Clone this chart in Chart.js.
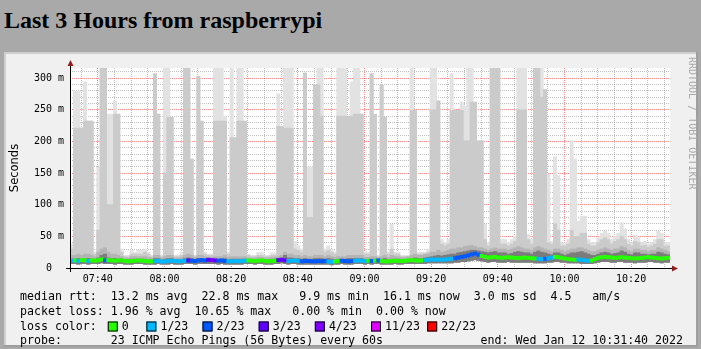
<!DOCTYPE html>
<html>
<head>
<meta charset="utf-8">
<title>Last 3 Hours from raspberrypi</title>
<script src="https://cdn.jsdelivr.net/npm/chart.js@4.4.1/dist/chart.umd.min.js"></script>
<style>
  html, body { margin: 0; padding: 0; }
  body { background: #a9a9a9; width: 701px; height: 349px; overflow: hidden; position: relative; }
  h2 { position: absolute; left: 4px; top: 8px; margin: 0; font: bold 24px "Liberation Serif", serif; line-height: 1; color: #000; }
  #graph { position: absolute; left: 4px; top: 52px; width: 694px; height: 295px; }
</style>
</head>
<body>
<h2>Last 3 Hours from raspberrypi</h2>
<div id="graph"><canvas id="smoke" width="694" height="295"></canvas></div>
<script>
// 180 one-minute steps starting 07:31:40
const startMinute = 7 * 60 + 31 + 40 / 60;
const endMinute = startMinute + 180;

const timeLabels = ['07:40', '08:00', '08:20', '08:40', '09:00', '09:20', '09:40', '10:00', '10:20'];
const rttLabels = ['0', '50 m', '100 m', '150 m', '200 m', '250 m', '300 m'];

// smoke layers, ms per minute
const pingMax = [
  38, 280, 280, 221, 294, 232, 232, 25, 159, 318,
  318, 243, 243, 264, 243, 30, 20, 20, 28, 25,
  28, 28, 30, 25, 20, 307, 243, 20, 318, 318,
  238, 20, 20, 25, 318, 318, 172, 20, 303, 232,
  25, 22, 22, 318, 318, 318, 240, 25, 318, 206,
  318, 318, 232, 22, 20, 20, 25, 25, 20, 20,
  24, 24, 275, 224, 318, 318, 318, 42, 35, 30,
  308, 160, 160, 290, 318, 318, 30, 35, 30, 25,
  318, 318, 318, 240, 294, 318, 318, 243, 25, 25,
  307, 243, 20, 289, 238, 25, 69, 25, 25, 20,
  20, 20, 318, 249, 25, 25, 25, 30, 318, 318,
  264, 45, 40, 45, 307, 249, 249, 262, 255, 318,
  318, 262, 201, 201, 69, 40, 318, 318, 318, 45,
  45, 40, 45, 50, 318, 318, 318, 53, 45, 318,
  318, 318, 282, 148, 42, 176, 146, 40, 40, 45,
  201, 172, 74, 82, 82, 45, 40, 40, 48, 55,
  58, 55, 45, 50, 55, 72, 62, 45, 40, 52,
  48, 40, 42, 38, 40, 45, 58, 55, 40, 40
];
const pingHigh = [
  30, 221, 221, 221, 232, 232, 232, 22, 60, 318,
  318, 100, 100, 243, 243, 25, 18, 18, 22, 22,
  22, 22, 25, 22, 18, 307, 243, 18, 150, 238,
  238, 18, 18, 20, 318, 318, 172, 18, 303, 232,
  22, 20, 20, 232, 232, 232, 232, 22, 206, 206,
  232, 232, 232, 20, 18, 18, 20, 20, 18, 18,
  20, 20, 224, 224, 221, 221, 221, 30, 28, 25,
  308, 80, 80, 290, 290, 240, 25, 28, 25, 22,
  240, 240, 240, 240, 240, 243, 243, 243, 22, 22,
  307, 243, 18, 289, 238, 22, 30, 22, 22, 18,
  18, 18, 249, 249, 22, 22, 22, 25, 250, 250,
  264, 38, 35, 38, 249, 249, 249, 249, 201, 201,
  262, 262, 201, 201, 45, 35, 318, 318, 318, 38,
  38, 35, 38, 42, 250, 250, 250, 45, 38, 318,
  318, 270, 282, 40, 38, 70, 60, 35, 35, 38,
  60, 50, 50, 55, 55, 38, 35, 35, 40, 45,
  48, 45, 38, 42, 45, 50, 45, 38, 35, 42,
  40, 35, 36, 33, 35, 38, 45, 45, 35, 35
];
const pingLow = [
  20, 20, 22, 20, 22, 22, 20, 18, 25, 30,
  32, 25, 22, 22, 20, 18, 16, 16, 18, 18,
  18, 18, 18, 17, 16, 20, 20, 16, 18, 20,
  20, 16, 16, 17, 20, 22, 20, 17, 20, 20,
  18, 17, 17, 18, 18, 18, 20, 17, 18, 18,
  18, 18, 18, 16, 16, 16, 17, 17, 16, 16,
  17, 17, 18, 20, 25, 22, 22, 20, 20, 18,
  20, 18, 18, 20, 20, 20, 18, 20, 18, 17,
  18, 18, 18, 20, 20, 20, 20, 20, 17, 17,
  18, 18, 16, 18, 20, 17, 20, 18, 18, 17,
  17, 18, 20, 22, 20, 20, 22, 22, 25, 25,
  28, 25, 26, 28, 30, 30, 32, 32, 34, 35,
  36, 34, 32, 32, 30, 28, 30, 32, 30, 30,
  30, 28, 30, 32, 34, 32, 30, 30, 28, 32,
  34, 32, 30, 28, 26, 30, 30, 28, 26, 28,
  30, 30, 32, 32, 30, 28, 26, 26, 28, 30,
  32, 30, 28, 30, 30, 34, 32, 28, 26, 30,
  30, 28, 28, 26, 28, 28, 32, 30, 28, 26
];
const pingCore = [
  14, 14, 15, 14, 14, 15, 14, 14, 16, 20,
  22, 16, 15, 15, 14, 14, 13, 13, 14, 14,
  14, 14, 14, 13, 13, 15, 15, 13, 14, 15,
  15, 13, 13, 13, 15, 16, 15, 13, 15, 15,
  14, 14, 14, 14, 14, 14, 15, 13, 14, 14,
  14, 14, 14, 13, 13, 13, 13, 13, 13, 13,
  13, 14, 15, 16, 20, 16, 16, 15, 15, 14,
  15, 14, 14, 15, 15, 15, 14, 15, 14, 13,
  14, 14, 14, 15, 15, 15, 15, 15, 13, 13,
  14, 14, 13, 14, 15, 13, 14, 14, 14, 13,
  13, 14, 15, 16, 15, 15, 16, 17, 18, 19,
  20, 19, 20, 21, 22, 22, 24, 25, 26, 27,
  28, 28, 27, 26, 25, 24, 25, 26, 24, 24,
  24, 22, 23, 25, 26, 25, 24, 24, 22, 25,
  27, 25, 24, 22, 21, 24, 24, 22, 20, 22,
  24, 24, 25, 26, 24, 22, 20, 20, 22, 24,
  25, 24, 22, 23, 24, 27, 25, 22, 21, 24,
  24, 22, 22, 21, 22, 22, 25, 24, 22, 21
];
const pingMin = [
  7, 7, 6, 7, 7, 6, 7, 7, 7, 8,
  7, 7, 7, 6, 7, 7, 6, 6, 6, 7,
  7, 7, 6, 6, 6, 6, 7, 6, 6, 6,
  7, 6, 6, 6, 7, 7, 7, 6, 7, 7,
  7, 7, 7, 7, 6, 7, 6, 6, 6, 6,
  6, 6, 7, 7, 7, 6, 7, 7, 6, 6,
  6, 7, 7, 8, 7, 6, 7, 7, 6, 6,
  6, 6, 6, 6, 6, 6, 6, 6, 5, 6,
  6, 7, 6, 6, 6, 7, 7, 7, 6, 7,
  6, 7, 7, 6, 6, 6, 6, 7, 6, 6,
  7, 7, 7, 7, 7, 7, 7, 8, 8, 8,
  8, 8, 8, 8, 8, 9, 9, 10, 10, 11,
  12, 13, 12, 11, 10, 9, 10, 10, 9, 9,
  9, 10, 9, 9, 9, 9, 9, 9, 9, 8,
  8, 8, 8, 9, 9, 10, 10, 9, 9, 8,
  8, 8, 8, 7, 7, 7, 7, 8, 9, 10,
  10, 10, 9, 9, 10, 10, 9, 9, 9, 8,
  9, 9, 9, 10, 10, 9, 9, 8, 9, 9
];
const medianRtt = [
  11.5, 12.0, 11.0, 12.5, 12.0, 11.0, 12.0, 11.5, 12.5, 13.5,
  12.0, 12.5, 12.0, 11.5, 12.0, 12.0, 11.0, 10.5, 11.0, 11.5,
  12.0, 11.5, 11.0, 10.5, 10.5, 11.0, 11.5, 10.0, 10.5, 11.0,
  11.5, 11.0, 10.5, 11.0, 11.5, 12.0, 11.5, 11.0, 12.0, 12.5,
  12.0, 13.0, 12.5, 12.0, 11.5, 12.0, 11.0, 10.5, 10.5, 11.0,
  10.5, 11.0, 11.5, 12.0, 11.5, 11.0, 11.5, 12.0, 11.0, 10.5,
  11.0, 11.5, 12.5, 13.0, 12.0, 11.0, 11.5, 12.0, 11.0, 10.5,
  11.0, 11.0, 10.5, 10.5, 11.0, 10.5, 11.0, 10.0, 9.9, 10.5,
  11.0, 11.5, 11.0, 10.5, 11.0, 11.5, 12.0, 11.5, 11.0, 11.5,
  11.0, 11.5, 12.0, 11.0, 10.5, 10.5, 11.0, 11.5, 11.0, 11.0,
  11.5, 12.0, 12.5, 12.0, 11.5, 12.0, 12.5, 13.0, 13.5, 13.0,
  13.5, 13.0, 13.5, 14.0, 14.5, 15.5, 16.5, 17.5, 18.5, 20.0,
  21.5, 22.8, 21.0, 19.0, 17.5, 16.5, 17.0, 17.5, 16.5, 16.0,
  16.5, 17.0, 16.5, 16.0, 15.5, 16.0, 16.5, 16.0, 15.5, 15.0,
  14.5, 14.0, 14.5, 15.5, 16.5, 17.5, 17.0, 16.0, 15.0, 14.0,
  13.5, 13.0, 13.5, 12.5, 12.0, 11.5, 12.0, 14.0, 16.0, 17.0,
  17.5, 17.0, 16.5, 16.0, 16.5, 17.0, 16.5, 16.0, 15.5, 15.0,
  15.5, 16.0, 16.5, 17.0, 16.5, 16.0, 15.5, 15.0, 15.5, 16.1
];
// lost pings out of 23 per minute
const lostPings = [
  1, 0, 1, 0, 0, 1, 0, 0, 0, 0,
  2, 0, 0, 0, 0, 0, 0, 0, 0, 0,
  0, 0, 0, 0, 0, 1, 1, 1, 1, 1,
  1, 1, 1, 1, 1, 3, 2, 2, 2, 2,
  2, 3, 4, 3, 2, 2, 2, 1, 1, 1,
  1, 1, 1, 0, 0, 0, 0, 0, 0, 0,
  0, 0, 3, 3, 3, 1, 1, 1, 1, 2,
  2, 2, 2, 2, 2, 2, 2, 1, 1, 0,
  0, 2, 2, 2, 2, 1, 1, 1, 1, 0,
  2, 0, 2, 0, 0, 0, 0, 0, 0, 0,
  0, 0, 0, 0, 0, 0, 1, 1, 1, 1,
  1, 1, 1, 1, 1, 2, 2, 2, 2, 2,
  2, 2, 2, 0, 0, 0, 0, 0, 0, 0,
  0, 0, 0, 0, 0, 0, 0, 0, 0, 0,
  1, 1, 2, 1, 1, 0, 0, 0, 0, 0,
  0, 0, 1, 1, 1, 1, 0, 0, 0, 0,
  0, 0, 0, 0, 0, 0, 0, 0, 0, 0,
  0, 0, 0, 0, 0, 0, 0, 0, 0, 0
];

const lossLevels = [0, 1, 2, 3, 4, 11, 22];
const lossNames = ['0', '1/23', '2/23', '3/23', '4/23', '11/23', '22/23'];
const lossColours = ['#26ff00', '#00b8ff', '#0059ff', '#5e00ff', '#7e00ff', '#dd00ff', '#ff0000'];

const legendLines = [
  'median rtt:  13.2 ms avg  22.8 ms max   9.9 ms min  16.1 ms now  3.0 ms sd  4.5   am/s',
  'packet loss: 1.96 % avg  10.65 % max   0.00 % min  0.00 % now',
  'loss color:',
  'probe:       23 ICMP Echo Pings (56 Bytes) every 60s'
];
const endStamp = 'end: Wed Jan 12 10:31:40 2022';

function lossColour(n) {
  let c = lossColours[0];
  lossLevels.forEach((lvl, i) => { if (n >= lvl) c = lossColours[i]; });
  return c;
}

const stepCentre = (i) => startMinute + i + 0.5;
const floating = (lower, upper) => upper.map((hi, i) => ({ x: stepCentre(i), y: [lower[i], hi] }));

const bandHalf = 2.6;
const medianBand = medianRtt.map((m, i) => ({ x: stepCentre(i), y: [m - bandHalf, m + bandHalf] }));

function clock(min) {
  const h = Math.floor(min / 60), m = Math.round(min % 60);
  return String(h).padStart(2, '0') + ':' + String(m).padStart(2, '0');
}
const timeMinutes = timeLabels.map(t => { const [h, m] = t.split(':'); return +h * 60 + +m; });

const monoFont = '"DejaVu Sans Mono", monospace';

const rrdFrame = {
  id: 'rrdFrame',
  beforeDraw(chart) {
    const { ctx, chartArea: a, width, height } = chart;
    ctx.save();
    ctx.fillStyle = '#f0f0f0';
    ctx.fillRect(0, 0, width, height);
    ctx.fillStyle = '#cfcfcf';
    ctx.fillRect(0, 0, width, 2);
    ctx.fillRect(0, 0, 2, height);
    ctx.fillStyle = '#9e9e9e';
    ctx.fillRect(0, height - 2, width, 2);
    ctx.fillRect(width - 2, 0, 2, height);
    ctx.fillStyle = '#ffffff';
    ctx.fillRect(a.left, a.top, a.right - a.left, a.bottom - a.top);
    ctx.restore();
  },
  afterDraw(chart) {
    const { ctx, chartArea: a } = chart;
    ctx.save();

    // axes
    ctx.strokeStyle = '#000';
    ctx.lineWidth = 1;
    ctx.beginPath();
    ctx.moveTo(a.left - 4, a.bottom + 0.5);
    ctx.lineTo(a.right + 3, a.bottom + 0.5);
    ctx.moveTo(a.left + 0.5, a.bottom + 4);
    ctx.lineTo(a.left + 0.5, a.top - 3);
    ctx.stroke();

    // arrow heads
    ctx.fillStyle = '#902020';
    ctx.beginPath();
    ctx.moveTo(a.right + 8, a.bottom + 0.5);
    ctx.lineTo(a.right + 2, a.bottom - 2.5);
    ctx.lineTo(a.right + 2, a.bottom + 3.5);
    ctx.closePath();
    ctx.fill();
    ctx.beginPath();
    ctx.moveTo(a.left + 0.5, a.top - 8);
    ctx.lineTo(a.left - 2.5, a.top - 2);
    ctx.lineTo(a.left + 3.5, a.top - 2);
    ctx.closePath();
    ctx.fill();

    // legend rows
    const rowY = [244.5, 259.5, 274.5, 289];
    const colW = 7.02;
    ctx.font = '11.6px ' + monoFont;
    ctx.fillStyle = '#000';
    ctx.textBaseline = 'middle';
    ctx.textAlign = 'left';
    legendLines.forEach((line, i) => ctx.fillText(line, 16, rowY[i]));

    const swatchCols = [12.5, 18, 26, 34, 42, 50, 58];
    lossNames.forEach((name, i) => {
      const x = 16 + swatchCols[i] * colW;
      ctx.fillStyle = lossColours[i];
      ctx.fillRect(x, rowY[2] - 5, 10, 10);
      ctx.strokeStyle = '#000';
      ctx.strokeRect(x + 0.5, rowY[2] - 4.5, 9, 9);
      ctx.fillStyle = '#000';
      ctx.fillText(name, x + 2 * colW, rowY[2]);
    });

    ctx.textAlign = 'right';
    ctx.fillText(endStamp, 679, rowY[3]);

    // vertical credit
    ctx.translate(688, 5);
    ctx.rotate(Math.PI / 2);
    ctx.textAlign = 'left';
    ctx.font = '10px ' + monoFont;
    ctx.fillStyle = '#a8a8a8';
    ctx.fillText('RRDTOOL / TOBI OETIKER', 0, 0);
    ctx.restore();
  }
};

const gridRed = 'rgba(255, 0, 0, 0.45)';
const gridGrey = 'rgba(128, 128, 128, 0.5)';

const bar = (label, data, colour) => ({
  label, data, backgroundColor: colour, borderWidth: 0, grouped: false,
  categoryPercentage: 1, barPercentage: 1, clip: 0
});

new Chart(document.getElementById('smoke'), {
  type: 'bar',
  data: {
    datasets: [
      bar('median rtt', medianBand, lostPings.map(lossColour)),
      bar('core', floating(pingMin, pingCore), '#7c7c7c'),
      bar('low', floating(pingMin, pingLow), '#b4b4b4'),
      bar('high', floating(pingMin, pingHigh), '#cbcbcb'),
      bar('max', floating(pingMin, pingMax), '#e2e2e2')
    ]
  },
  options: {
    responsive: false,
    animation: false,
    devicePixelRatio: 1,
    layout: { padding: { top: 16, right: 28, bottom: 57, left: 0 } },
    plugins: { legend: { display: false }, tooltip: { enabled: false } },
    scales: {
      x: {
        type: 'linear',
        min: startMinute,
        max: endMinute,
        offset: false,
        z: 1,
        afterBuildTicks(scale) {
          const ticks = [];
          for (let v = Math.ceil(startMinute / 5) * 5; v < endMinute; v += 5) ticks.push({ value: v });
          scale.ticks = ticks;
        },
        afterFit(scale) { scale.height = 22; },
        ticks: {
          autoSkip: false,
          maxRotation: 0,
          padding: 5,
          color: '#000',
          font: { family: monoFont, size: 10 },
          callback: (v) => timeMinutes.includes(v) ? clock(v) : ''
        },
        grid: {
          offset: false,
          drawTicks: false,
          lineWidth: 1,
          color: (c) => c.tick && timeMinutes.includes(c.tick.value) ? gridRed : gridGrey
        },
        border: { display: false, dash: [1, 1] }
      },
      y: {
        min: 0,
        max: 316,
        z: 1,
        afterBuildTicks(scale) {
          const ticks = [];
          for (let v = 0; v <= 310; v += 10) ticks.push({ value: v });
          scale.ticks = ticks;
        },
        afterFit(scale) { scale.width = 66; },
        title: {
          display: true,
          text: 'Seconds',
          color: '#000',
          font: { family: '"DejaVu Sans", sans-serif', size: 11.5 },
          padding: { top: 4, bottom: 0 }
        },
        ticks: {
          autoSkip: false,
          padding: 6,
          color: '#000',
          font: { family: monoFont, size: 10 },
          callback: (v) => {
            if (v % 50 !== 0) return '';
            const label = rttLabels[v / 50];
            return label.includes('m') ? label : label + '  ';
          }
        },
        grid: {
          drawTicks: false,
          lineWidth: 1,
          color: (c) => !c.tick || c.tick.value === 0 ? 'rgba(0,0,0,0)' : (c.tick.value % 50 === 0 ? gridRed : gridGrey)
        },
        border: { display: false, dash: [1, 1] }
      }
    }
  },
  plugins: [rrdFrame]
});
</script>
</body>
</html>
